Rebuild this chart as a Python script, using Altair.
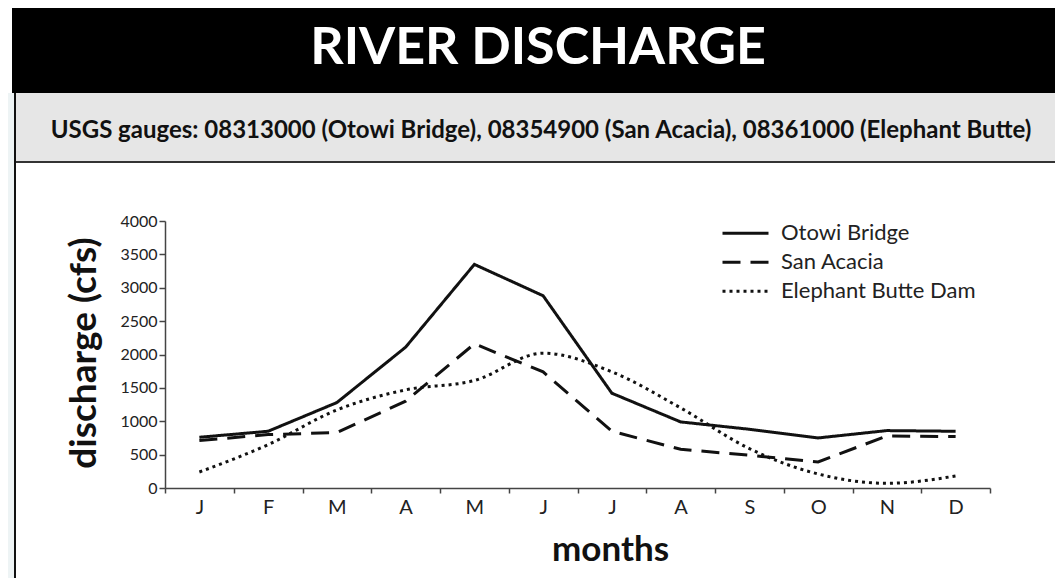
import altair as alt
import pandas as pd

months = ["Jan", "Feb", "Mar", "Apr", "May", "Jun", "Jul", "Aug", "Sep", "Oct", "Nov", "Dec"]
series_names = ["Otowi Bridge", "San Acacia", "Elephant Butte Dam"]
otowi = [760, 850, 1280, 2110, 3350, 2880, 1420, 990, 880, 750, 860, 850]
san_acacia = [710, 800, 830, 1300, 2160, 1740, 850, 580, 490, 390, 780, 770]
elephant = [240, 650, 1170, 1470, 1610, 2020, 1740, 1200, 590, 210, 70, 180]
y_ticks = [0, 500, 1000, 1500, 2000, 2500, 3000, 3500, 4000]

title_text = "RIVER DISCHARGE"
subtitle_text = "USGS gauges: 08313000 (Otowi Bridge), 08354900 (San Acacia), 08361000 (Elephant Butte)"

rows = []
for name, vals in zip(series_names, [otowi, san_acacia, elephant]):
    for m, v in zip(months, vals):
        rows.append({"month": m, "series": name, "discharge": v})
df = pd.DataFrame(rows)
one = pd.DataFrame({"k": [0]})

FONT = "Lato"
W, H = 825, 267

x_enc = alt.X(
    "month:O", sort=months, bandPosition=0.5,
    scale=alt.Scale(type="band", paddingInner=0, paddingOuter=0),
    axis=alt.Axis(
        title="months", labelExpr="substring(datum.label, 0, 1)", labelAngle=0,
        tickBand="extent", tickSize=5, labelFontSize=20, labelFont=FONT,
        labelColor="#222", labelPadding=4, domainColor="#444", tickColor="#444",
        domainWidth=1.5, tickWidth=1.5, grid=False,
        titleFont=FONT, titleFontSize=35, titleFontWeight="bold", titleColor="#111",
        titleX=445, titleY=72, titleBaseline="alphabetic", titleAlign="center",
    ),
)
y_enc = alt.Y(
    "discharge:Q",
    scale=alt.Scale(domain=[0, 4000], nice=False),
    axis=alt.Axis(
        title="discharge (cfs)", values=y_ticks, format="d", grid=False,
        tickSize=6, labelFontSize=16, labelFont=FONT, labelColor="#222",
        labelPadding=2, domainColor="#444", tickColor="#444",
        domainWidth=1.5, tickWidth=1.5,
        titleFont=FONT, titleFontSize=37, titleFontWeight="bold", titleColor="#111",
        titleX=-70, titleY=H / 2 - 2, titleAngle=270, titleBaseline="alphabetic",
        titleAlign="center",
    ),
)
dash_enc = alt.StrokeDash(
    "series:N",
    scale=alt.Scale(domain=series_names, range=[[1, 0], [18, 10], [3, 4]]),
    legend=alt.Legend(
        title=None, orient="none", legendX=556, legendY=-2,
        symbolType="stroke", symbolSize=2116, symbolStrokeWidth=3,
        symbolStrokeColor="#111", labelFont=FONT, labelFontSize=22,
        labelColor="#222", labelOffset=11, rowPadding=0, padding=0,
        clipHeight=28.5, labelLimit=400,
    ),
)

def line_layer(name, interp):
    return alt.Chart(df).transform_filter(alt.datum.series == name).mark_line(
        color="#111", strokeWidth=3, interpolate=interp
    ).encode(x=x_enc, y=y_enc, strokeDash=dash_enc)

# page coordinates relative to plot origin at (165, 221)
def rect(x1, x2, y1, y2, color):
    return alt.Chart(one).mark_rect(color=color).encode(
        x=alt.value(x1), x2=alt.value(x2), y=alt.value(y1), y2=alt.value(y2)
    )

strip = rect(-157, -151, -128, 357, "#eef4f5")
black = rect(-153, 890, -213, -128, "#000000")
gray = rect(-150, 890, -128, -59, "#e6e6e6")
gray_border = rect(-150, 890, -60, -58, "#333333")
left_border = rect(-151, -149, -128, 357, "#111111")

title = alt.Chart(one).mark_text(
    text=title_text, font=FONT, fontSize=52, fontWeight="bold", color="#ffffff",
    align="center", baseline="alphabetic"
).encode(x=alt.value(373), y=alt.value(-157))
subtitle = alt.Chart(one).mark_text(
    text=subtitle_text, font=FONT, fontSize=24, fontWeight="bold", color="#111111",
    align="center", baseline="alphabetic"
).encode(x=alt.value(376), y=alt.value(-83))

chart = alt.layer(
    strip, black, gray, gray_border, left_border, title, subtitle,
    line_layer("Otowi Bridge", "linear"),
    line_layer("San Acacia", "linear"),
    line_layer("Elephant Butte Dam", "monotone"),
).properties(
    width=W, height=H, padding=0, background="#ffffff",
    view=alt.ViewBackground(strokeWidth=0, strokeOpacity=0),
).configure_view(strokeWidth=0, strokeOpacity=0)

chart.save("out.html", embed_options={"renderer": "svg", "actions": False})
